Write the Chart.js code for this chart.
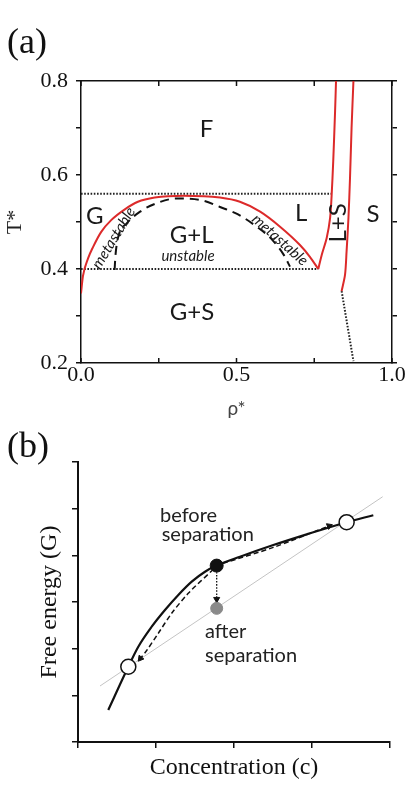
<!DOCTYPE html>
<html>
<head>
<meta charset="utf-8">
<script src="https://cdn.jsdelivr.net/npm/chart.js@4.4.0/dist/chart.umd.min.js"></script>
<style>
body{margin:0;background:#fff;width:408px;height:797px;position:relative;overflow:hidden}
.wrap{position:absolute;left:0;width:408px}
#wrapA{top:0;height:425px}
#wrapB{top:425px;height:372px}
.tag{position:absolute;left:7px;font-family:"Liberation Serif",serif;font-size:36px;line-height:36px;color:#111}
</style>
</head>
<body>
<div class="wrap" id="wrapA"><canvas id="chartA" width="408" height="425"></canvas></div>
<div class="wrap" id="wrapB"><canvas id="chartB" width="408" height="372"></canvas></div>
<div class="tag" style="top:23px">(a)</div>
<div class="tag" style="top:427px">(b)</div>
<script>
// ---- panel (a): phase diagram, rho* vs T* ----
var binodalRho = [0.000, 0.006, 0.023, 0.039, 0.065, 0.097, 0.141, 0.183, 0.237, 0.330, 0.447, 0.511, 0.576, 0.640, 0.704, 0.736, 0.763]
var binodalT   = [0.348, 0.384, 0.423, 0.447, 0.479, 0.504, 0.527, 0.543, 0.552, 0.556, 0.552, 0.543, 0.522, 0.490, 0.451, 0.426, 0.400]
var liquidusRho = [0.763, 0.774, 0.790, 0.801, 0.806, 0.811, 0.817, 0.820]
var liquidusT   = [0.400, 0.430, 0.466, 0.509, 0.558, 0.629, 0.736, 0.800]
var solidusRho = [0.838, 0.849, 0.854, 0.860, 0.865, 0.870, 0.876]
var solidusT   = [0.353, 0.388, 0.438, 0.509, 0.594, 0.700, 0.800]
var solidExtRho = [0.838, 0.876]
var solidExtT   = [0.353, 0.204]
var spinodalRho = [0.108, 0.111, 0.120, 0.147, 0.190, 0.243, 0.308, 0.390, 0.447, 0.505, 0.565, 0.615, 0.652, 0.672]
var spinodalT   = [0.398, 0.430, 0.469, 0.497, 0.522, 0.540, 0.550, 0.546, 0.532, 0.516, 0.490, 0.462, 0.430, 0.405]
var criticalRho = [0.000, 0.806]
var criticalT   = [0.560, 0.560]
var tripleRho = [0.000, 0.763]
var tripleT   = [0.400, 0.400]

// ---- panel (b): free energy vs concentration ----
var curveC = [0.388, 0.645, 0.773, 0.945, 1.115, 1.286, 1.458, 1.628, 1.778, 2.077, 2.504, 2.932, 3.444, 3.786]
var curveG = [0.686, 1.613, 2.042, 2.471, 2.828, 3.150, 3.435, 3.649, 3.780, 3.970, 4.220, 4.450, 4.710, 4.860]
var tangentC = [0.282, 3.906]
var tangentG = [1.200, 5.256]
var coexistC = [0.645, 3.444]
var coexistG = [1.613, 4.710]
var beforeC = [1.778]
var beforeG = [3.780]
var afterC = [1.778]
var afterG = [2.864]
var arrowLeftC = [1.735, 1.414, 1.201, 1.029, 0.880, 0.800]
var arrowLeftG = [3.700, 3.186, 2.758, 2.329, 1.960, 1.790]
var arrowRightC = [1.860, 2.504, 3.220]
var arrowRightG = [3.830, 4.170, 4.630]
var arrowDownC = [1.778, 1.778]
var arrowDownG = [3.640, 3.060]

function pts(xs, ys){
    return xs.map(function(x, i){ return {x: x, y: ys[i]} })
}

function textPlugin(items){
    return {
        id: 'textLabels',
        afterDatasetsDraw: function(chart){
            var ctx = chart.ctx
            var xs = chart.scales.x, ys = chart.scales.y
            items.forEach(function(t){
                ctx.save()
                ctx.translate(xs.getPixelForValue(t.x), ys.getPixelForValue(t.y))
                ctx.rotate((t.rot || 0) * Math.PI / 180)
                ctx.font = t.font
                ctx.fillStyle = t.color || '#1a1a1a'
                ctx.textAlign = t.align || 'center'
                ctx.textBaseline = t.baseline || 'middle'
                ctx.fillText(t.text, 0, 0)
                ctx.restore()
            })
        }
    }
}

// x ticks of panel (a) point inward, on top and bottom
var innerTicks = {
    id: 'innerTicks',
    afterDraw: function(chart){
        var ctx = chart.ctx, xs = chart.scales.x, a = chart.chartArea
        ctx.save()
        ctx.strokeStyle = '#111'
        ctx.lineWidth = 1.5
        xs.ticks.forEach(function(t){
            var px = xs.getPixelForValue(t.value)
            ctx.beginPath()
            ctx.moveTo(px, a.bottom); ctx.lineTo(px, a.bottom - 5)
            ctx.moveTo(px, a.top); ctx.lineTo(px, a.top + 5)
            ctx.stroke()
        })
        ctx.restore()
    }
}

var big = '24px Lato'
var ital = 'italic 15px Lato'
var labelsA = [
    {text: 'F', x: 0.404, y: 0.698, font: big},
    {text: 'G', x: 0.044, y: 0.513, font: big},
    {text: 'G+L', x: 0.356, y: 0.472, font: big},
    {text: 'unstable', x: 0.344, y: 0.428, font: ital},
    {text: 'L', x: 0.708, y: 0.519, font: big},
    {text: 'L+S', x: 0.826, y: 0.498, font: big, rot: -90},
    {text: 'S', x: 0.939, y: 0.516, font: big},
    {text: 'G+S', x: 0.357, y: 0.307, font: big},
    {text: 'metastable', x: 0.105, y: 0.466, font: ital, rot: -58.6},
    {text: 'metastable', x: 0.640, y: 0.462, font: ital, rot: 41.6}
]

var mid = '20px Lato'
var labelsB = [
    {text: 'before', x: 1.051, y: 4.72, font: mid, align: 'left', baseline: 'alphabetic', color: '#222'},
    {text: 'separation', x: 1.073, y: 4.307, font: mid, align: 'left', baseline: 'alphabetic', color: '#222'},
    {text: 'after', x: 1.628, y: 2.228, font: mid, align: 'left', baseline: 'alphabetic', color: '#222'},
    {text: 'separation', x: 1.628, y: 1.72, font: mid, align: 'left', baseline: 'alphabetic', color: '#222'}
]

var red = '#dc2a2a'
var serifTicks = {family: 'Liberation Serif', size: 22, lineHeight: 1}

new Chart(document.getElementById('chartA'), {
    type: 'scatter',
    data: {
        datasets: [
            {data: pts(binodalRho, binodalT), showLine: true, borderColor: red, borderWidth: 2, cubicInterpolationMode: 'monotone'},
            {data: pts(liquidusRho, liquidusT), showLine: true, borderColor: red, borderWidth: 2, tension: 0.3},
            {data: pts(solidusRho, solidusT), showLine: true, borderColor: red, borderWidth: 2, tension: 0.3},
            {data: pts(spinodalRho, spinodalT), showLine: true, borderColor: '#111', borderWidth: 2, borderDash: [9, 6], cubicInterpolationMode: 'monotone'},
            {data: pts(criticalRho, criticalT), showLine: true, borderColor: '#222', borderWidth: 2, borderDash: [1.6, 1.6]},
            {data: pts(tripleRho, tripleT), showLine: true, borderColor: '#222', borderWidth: 2, borderDash: [1.6, 1.6]},
            {data: pts(solidExtRho, solidExtT), showLine: true, borderColor: '#222', borderWidth: 2, borderDash: [1.6, 1.6]}
        ]
    },
    options: {
        responsive: false,
        animation: false,
        events: [],
        elements: {point: {radius: 0}},
        layout: {padding: {left: 0, top: 81, right: 10, bottom: 2}},
        plugins: {legend: {display: false}, tooltip: {enabled: false}},
        scales: {
            x: {
                type: 'linear', min: 0, max: 1,
                ticks: {
                    stepSize: 0.25, autoSkip: false, maxRotation: 0, padding: 1,
                    font: serifTicks, color: '#111',
                    callback: function(v){ return Math.round(v * 4) % 2 === 0 ? v.toFixed(1) : '' }
                },
                grid: {display: false, drawTicks: false},
                border: {display: true, color: '#111', width: 1.5},
                title: {display: true, text: 'ρ*', font: {family: 'Lato', size: 19}, color: '#444', padding: {top: 0, bottom: 3}},
                afterFit: function(s){ s.height = 60 }
            },
            x2: {
                type: 'linear', position: 'top', min: 0, max: 1,
                ticks: {display: false},
                grid: {display: false, drawTicks: false},
                border: {display: true, color: '#111', width: 1.5},
                afterFit: function(s){ s.height = 0 }
            },
            y: {
                type: 'linear', min: 0.2, max: 0.8,
                ticks: {
                    stepSize: 0.1, autoSkip: false, padding: 8,
                    font: serifTicks, color: '#111',
                    callback: function(v){ return Math.round(v * 10) % 2 === 0 ? v.toFixed(1) : '' }
                },
                grid: {display: true, drawOnChartArea: false, drawTicks: true, tickLength: 5, color: '#111', lineWidth: 1.5},
                border: {display: true, color: '#111', width: 1.5},
                title: {display: true, text: 'T*', font: {family: 'Liberation Serif', size: 22}, color: '#222', padding: {top: 2, bottom: 0}},
                afterFit: function(s){ s.width = 81 }
            },
            y2: {
                type: 'linear', position: 'right', min: 0.2, max: 0.8,
                ticks: {display: false, stepSize: 0.1},
                grid: {display: true, drawOnChartArea: false, drawTicks: true, tickLength: 5, color: '#111', lineWidth: 1.5},
                border: {display: true, color: '#111', width: 1.5},
                afterFit: function(s){ s.width = 6 }
            }
        }
    },
    plugins: [innerTicks, textPlugin(labelsA)]
})

function arrowAngle(ctx){
    var d = ctx.dataset.data, n = d.length
    var xs = ctx.chart.scales.x, ys = ctx.chart.scales.y
    var dx = xs.getPixelForValue(d[n - 1].x) - xs.getPixelForValue(d[n - 2].x)
    var dy = ys.getPixelForValue(d[n - 1].y) - ys.getPixelForValue(d[n - 2].y)
    return Math.atan2(dx, -dy) * 180 / Math.PI
}
function arrowRadius(ctx){
    return ctx.dataIndex === ctx.dataset.data.length - 1 ? 3.5 : 0
}
function arrow(data, dash, width){
    return {
        data: data, showLine: true, order: 2, tension: 0.3,
        borderColor: '#111', borderWidth: width, borderDash: dash,
        pointStyle: 'triangle', pointRadius: arrowRadius, pointRotation: arrowAngle,
        pointBackgroundColor: '#111', pointBorderColor: '#111', pointBorderWidth: 1
    }
}

var axisB = {color: '#111', width: 2}
var gridB = {display: true, drawOnChartArea: false, drawTicks: true, tickLength: 6, color: '#111', lineWidth: 1.5}

new Chart(document.getElementById('chartB'), {
    type: 'scatter',
    data: {
        datasets: [
            {data: pts(coexistC, coexistG), order: 1, pointRadius: 7.5, pointBackgroundColor: '#fff', pointBorderColor: '#111', pointBorderWidth: 1.5},
            {data: pts(beforeC, beforeG), order: 1, pointRadius: 6.5, pointBackgroundColor: '#111', pointBorderColor: '#111', pointBorderWidth: 1},
            {data: pts(afterC, afterG), order: 1, pointRadius: 6, pointBackgroundColor: '#8a8a8a', pointBorderColor: '#8a8a8a', pointBorderWidth: 1},
            arrow(pts(arrowLeftC, arrowLeftG), [5, 3], 1.5),
            arrow(pts(arrowRightC, arrowRightG), [5, 3], 1.5),
            arrow(pts(arrowDownC, arrowDownG), [1.5, 1.5], 1.3),
            {data: pts(curveC, curveG), order: 3, showLine: true, pointRadius: 0, borderColor: '#111', borderWidth: 2.2, cubicInterpolationMode: 'monotone'},
            {data: pts(tangentC, tangentG), order: 4, showLine: true, pointRadius: 0, borderColor: '#c4c4c4', borderWidth: 1}
        ]
    },
    options: {
        responsive: false,
        animation: false,
        events: [],
        layout: {padding: {left: 0, top: 37, right: 18, bottom: 5}},
        plugins: {legend: {display: false}, tooltip: {enabled: false}},
        scales: {
            x: {
                type: 'linear', min: 0, max: 4,
                ticks: {display: false, stepSize: 1},
                grid: gridB, border: axisB,
                title: {display: true, text: 'Concentration (c)', font: {family: 'Liberation Serif', size: 24}, color: '#111', padding: {top: 0, bottom: 10}},
                afterFit: function(s){ s.height = 50 }
            },
            y: {
                type: 'linear', min: 0, max: 6,
                ticks: {display: false, stepSize: 1},
                grid: gridB, border: axisB,
                title: {display: true, text: 'Free energy (G)', font: {family: 'Liberation Serif', size: 24}, color: '#111', padding: {top: 35, bottom: 0}},
                afterFit: function(s){ s.width = 78 }
            }
        }
    },
    plugins: [textPlugin(labelsB)]
})
</script>
</body>
</html>
